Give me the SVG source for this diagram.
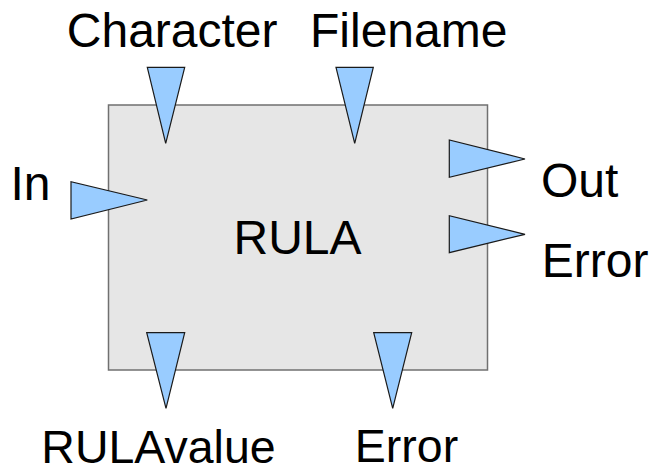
<svg xmlns="http://www.w3.org/2000/svg" width="652" height="469" viewBox="0 0 652 469">
<style>
.box{fill:#e6e6e6;stroke:#707070;stroke-width:1.5}
.port{fill:#99ccff;stroke:#1a1a1a;stroke-width:1.2;stroke-linejoin:miter}
.lbl{font-family:"Liberation Sans",Arial,sans-serif;font-size:48px;fill:#000}
.lbl.bot{font-size:46.5px}
</style>
<rect width="652" height="469" fill="#ffffff"/>
<g id="rula">
<rect class="box" x="108.5" y="105" width="379" height="265"/>
<text class="lbl" x="233.5" y="254">RULA</text>
</g>
<g id="connectors">
<g id="port-character"><polygon class="port" points="147.3,67.3 184.7,67.3 165.7,143.3"/><text class="lbl" x="66.8" y="46.7">Character</text></g>
<g id="port-filename"><polygon class="port" points="336,67.3 373.3,67.3 354.7,143.3"/><text class="lbl" x="310" y="46.7">Filename</text></g>
<g id="port-in"><polygon class="port" points="71,181.7 71,219 147.3,200"/><text class="lbl" x="10.5" y="200">In</text></g>
<g id="port-out"><polygon class="port" points="449.3,140 449.3,177.3 525,159"/><text class="lbl" x="541" y="197.3">Out</text></g>
<g id="port-error-right"><polygon class="port" points="449.3,215.7 449.3,252.7 525,234.3"/><text class="lbl" x="541.8" y="276.7">Error</text></g>
<g id="port-rulavalue"><polygon class="port" points="146.7,332.7 184.7,332.7 166,408.3"/><text class="lbl bot" x="41.3" y="463.3">RULAvalue</text></g>
<g id="port-error-bottom"><polygon class="port" points="373.7,332.7 411.7,332.7 392.7,408.3"/><text class="lbl bot" x="354.8" y="461.7">Error</text></g>
</g>
</svg>
